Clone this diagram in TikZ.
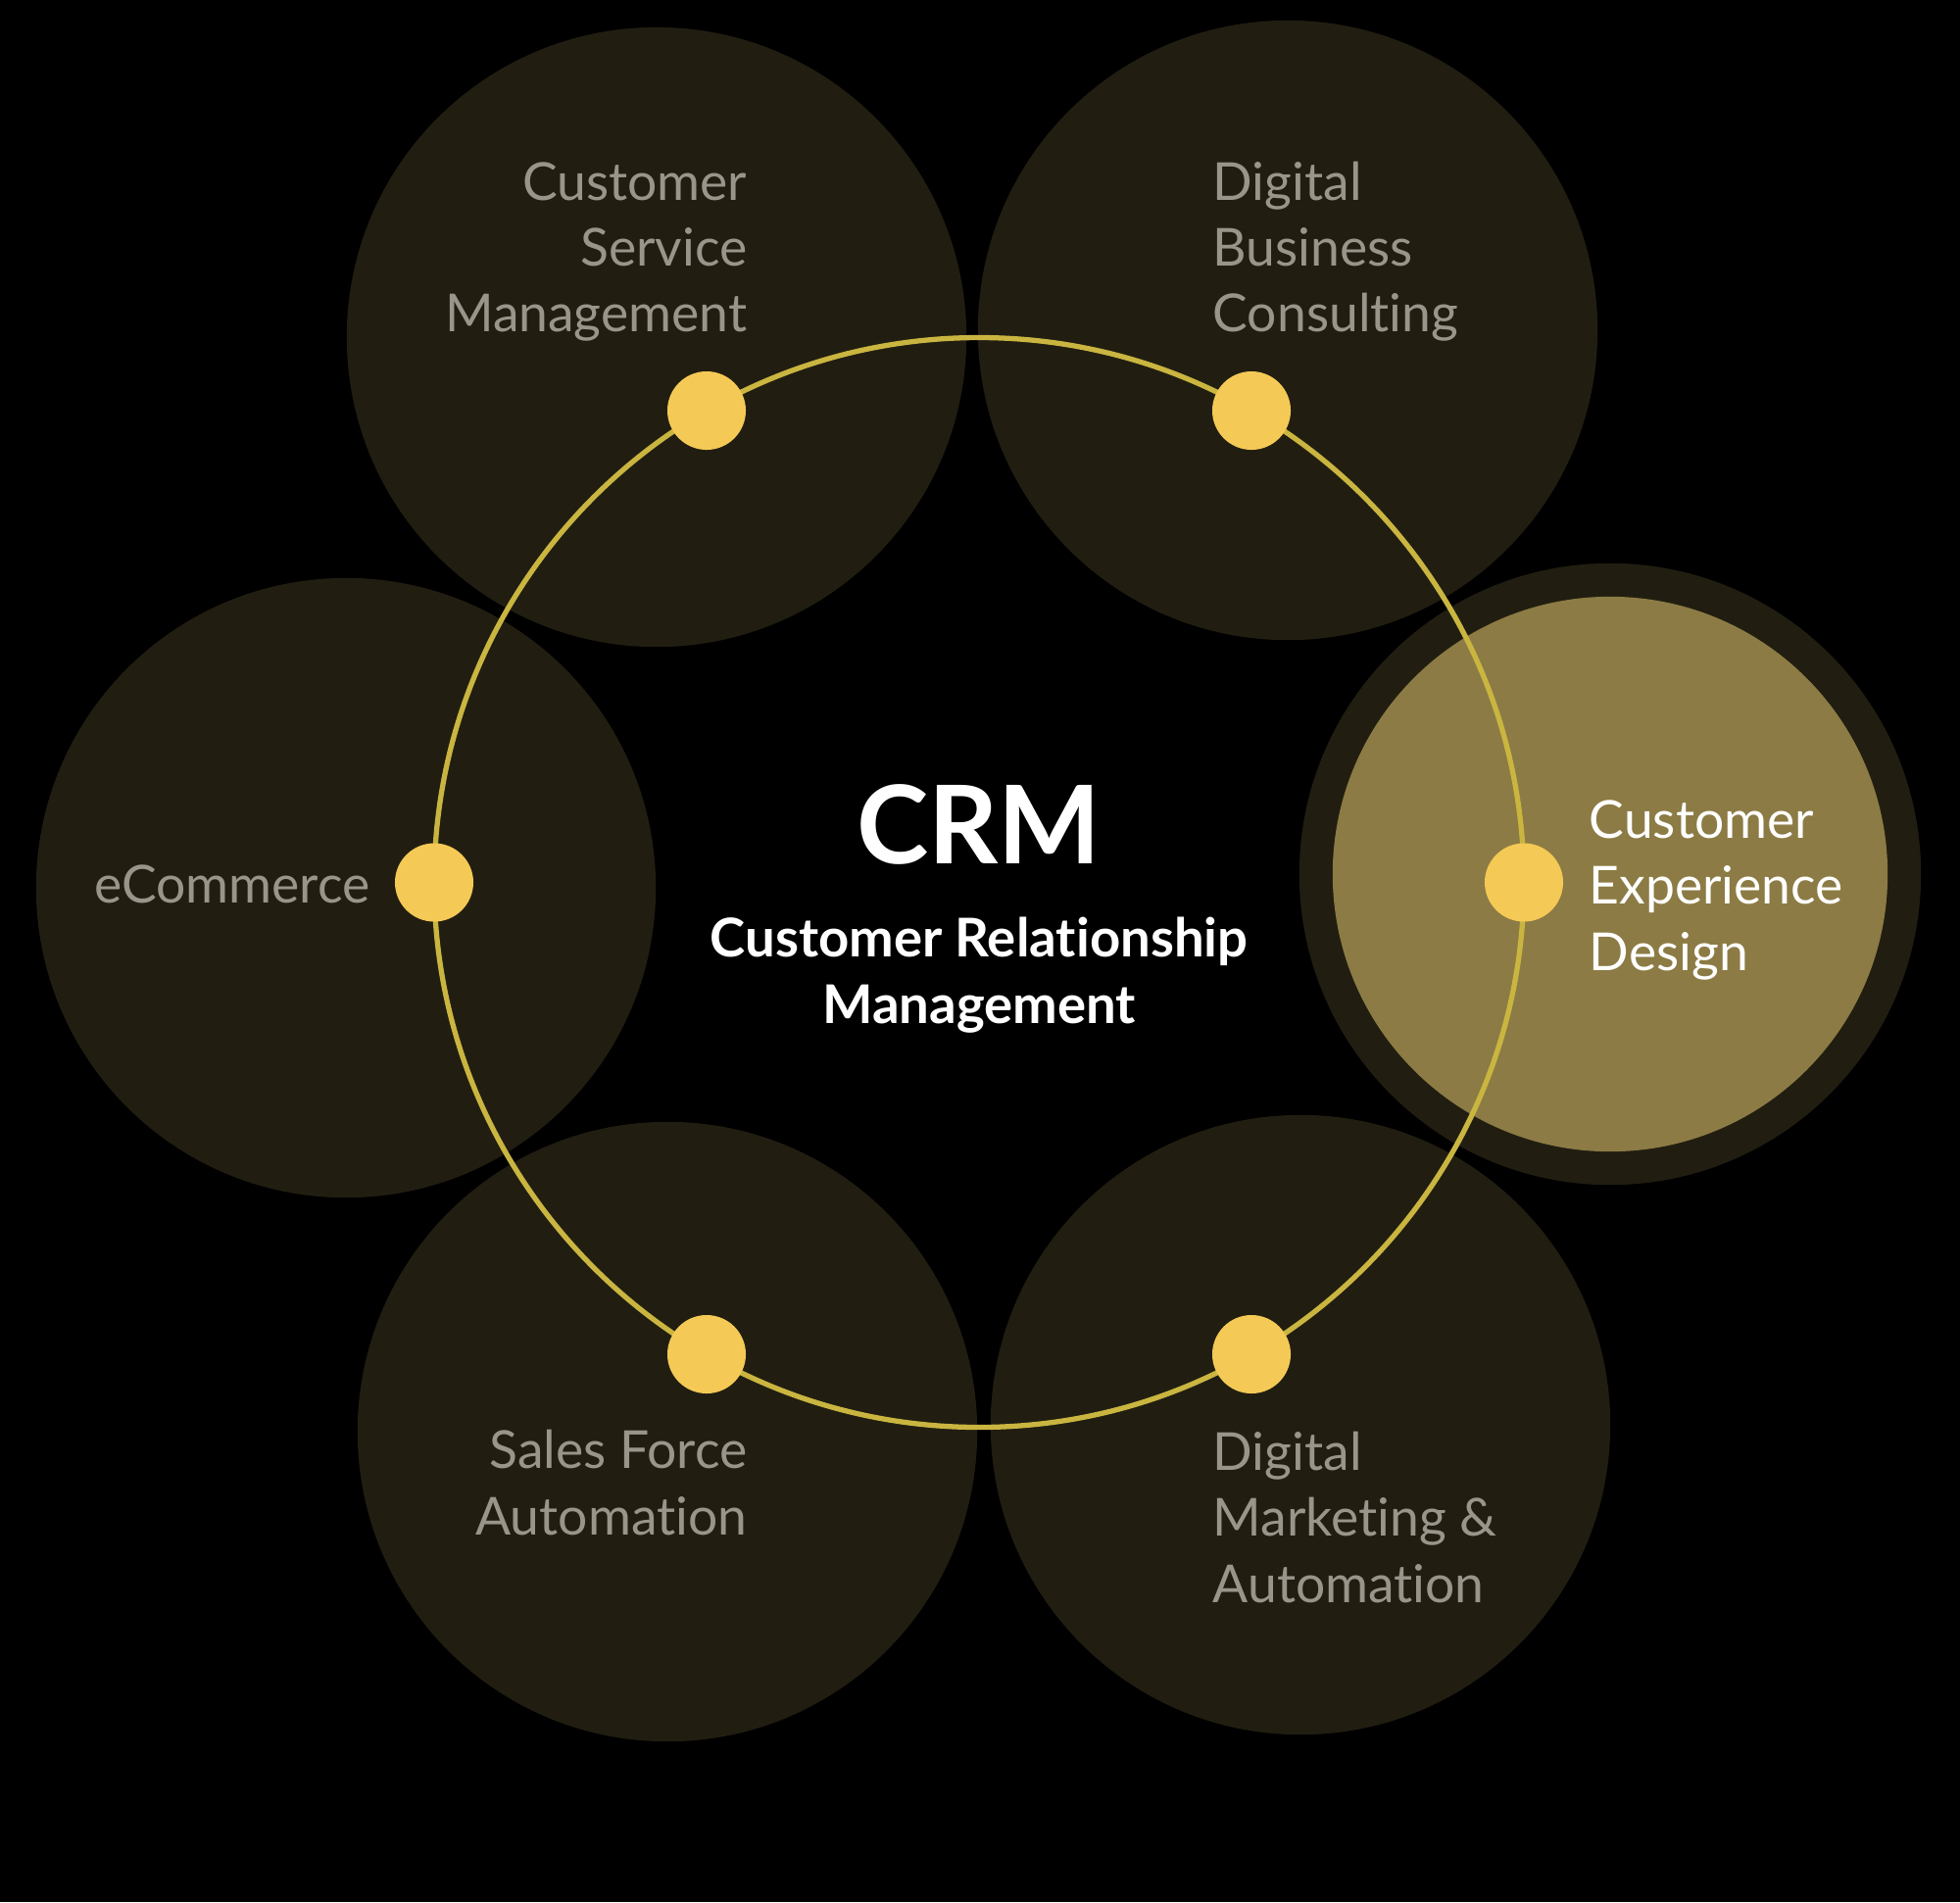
\documentclass[tikz,border=0pt]{standalone}
\usepackage{fontspec}
\setmainfont{Lato}[RawFeature={-liga;-dlig;-clig}]
\definecolor{bubblefill}{HTML}{211E11}
\definecolor{hilite}{HTML}{8C7B44}
\definecolor{ringcol}{HTML}{C9B540}
\definecolor{dotcol}{HTML}{F4C955}
\definecolor{labelgray}{HTML}{9A958B}
\tikzset{
  bubble/.style={circle, fill=bubblefill, minimum size=6.32cm, inner sep=0pt},
  hiring/.style={circle, fill=bubblefill, minimum size=6.34cm, inner sep=0pt},
  hicore/.style={circle, fill=hilite, minimum size=5.66cm, inner sep=0pt},
  ringline/.style={draw=ringcol, line width=1.5pt},
  dotnode/.style={circle, fill=dotcol, minimum size=0.8cm, inner sep=0pt},
  lbl/.style={text=labelgray, font=\fontsize{15.2}{19}\selectfont, inner sep=0pt},
  lblw/.style={text=white, font=\fontsize{15.2}{19}\selectfont, inner sep=0pt},
  lbl right/.style={lbl, anchor=base east},
  lbl left/.style={lbl, anchor=base west},
}
\begin{document}
\begin{tikzpicture}[x=0.01cm,y=-0.01cm]
\fill[black] (0,0) rectangle (2000,1941);
\useasboundingbox (0,0) rectangle (2000,1941);
% bubbles
\node[bubble] (csm) at (670,344) {};
\node[bubble] (dbc) at (1314,337) {};
\node[bubble] (eco) at (353,906) {};
\node[bubble] (sfa) at (681,1461) {};
\node[bubble] (dma) at (1327,1454) {};
\node[hiring] (cedo) at (1643,892) {};
\node[hicore] (ced) at (1643,892) {};
% ring
\coordinate (ctr) at (999,900.5);
\draw[ringline] (ctr) circle[radius=556];
% dots
\node[dotnode] (d1) at (721,419) {};
\node[dotnode] (d2) at (1277,419) {};
\node[dotnode] (d3) at (443,900.5) {};
\node[dotnode] (d4) at (1555,900.5) {};
\node[dotnode] (d5) at (721,1382) {};
\node[dotnode] (d6) at (1277,1382) {};
% labels
\node[lbl right] (csm1) at (763,204) {Customer};
\node[lbl right] (csm2) at (763,271) {Service};
\node[lbl right] (csm3) at (763,338) {Management};
\node[lbl left] (dbc1) at (1237,204) {Digital};
\node[lbl left] (dbc2) at (1237,271) {Business};
\node[lbl left] (dbc3) at (1237,338) {Consulting};
\node[lbl right] (eco1) at (378,921) {eCommerce};
\node[lbl right] (sfa1) at (763,1498) {Sales Force};
\node[lbl right] (sfa2) at (763,1566) {Automation};
\node[lbl left] (dma1) at (1237,1500) {Digital};
\node[lbl left] (dma2) at (1237,1567) {Marketing \&};
\node[lbl left] (dma3) at (1237,1635) {Automation};
\node[lblw, anchor=base west] (ced1) at (1621,855) {Customer};
\node[lblw, anchor=base west] (ced2) at (1621,922) {Experience};
\node[lblw, anchor=base west] (ced3) at (1621,990) {Design};
% centre
\node[text=white, font=\fontsize{31.5}{36}\bfseries\selectfont, inner sep=0pt, anchor=base] (crm) at (999,881) {CRM};
\node[text=white, font=\fontsize{15.5}{19}\bfseries\selectfont, inner sep=0pt, anchor=base] (crm1) at (999,976) {Customer Relationship};
\node[text=white, font=\fontsize{15.5}{19}\bfseries\selectfont, inner sep=0pt, anchor=base] (crm2) at (999,1044) {Management};
\end{tikzpicture}
\end{document}
